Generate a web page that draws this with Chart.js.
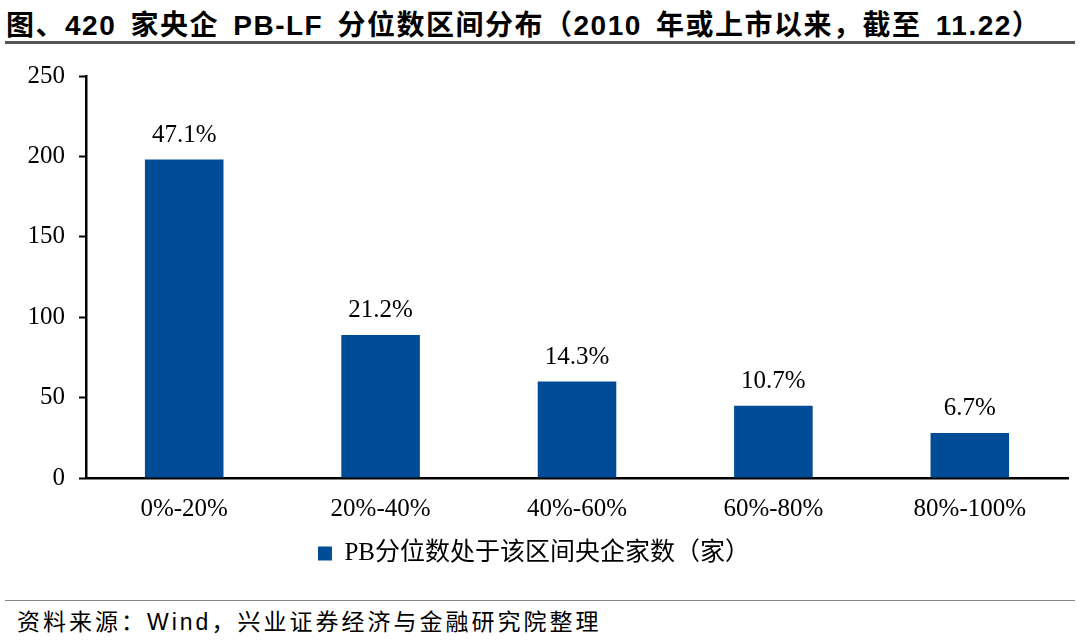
<!DOCTYPE html>
<html>
<head>
<meta charset="utf-8">
<script src="https://cdn.jsdelivr.net/npm/chart.js@4.4.1/dist/chart.umd.min.js"></script>
<style>
  body { margin: 0; background: #fff; width: 1080px; height: 643px; position: relative; overflow: hidden; }
  #title { position: absolute; left: 6px; top: 3px; font: bold 28px "Liberation Sans", "Noto Sans CJK SC", sans-serif; color: #000; white-space: nowrap; letter-spacing: 1.5px; word-spacing: 5px; }
  #titleLine { position: absolute; left: 5px; top: 41px; width: 1070px; height: 3px; background: #555; }
  #srcLine { position: absolute; left: 5px; top: 600px; width: 1070px; height: 1px; background: #888; }
  #source { position: absolute; left: 17px; top: 603px; font: 23px "Liberation Sans", "Noto Sans CJK SC", sans-serif; color: #000; white-space: nowrap; letter-spacing: 3px; }
  #wrap { position: absolute; left: 0; top: 47px; width: 1080px; height: 540px; }
</style>
</head>
<body>
<div id="title">图、420 家央企 PB-LF 分位数区间分布（2010 年或上市以来，截至 11.22）</div>
<div id="titleLine"></div>
<div id="wrap"><canvas id="chart"></canvas></div>
<div id="srcLine"></div>
<div id="source">资料来源：Wind，兴业证券经济与金融研究院整理</div>
<script>
// 分位数区间
const categories = ['0%-20%', '20%-40%', '40%-60%', '60%-80%', '80%-100%'];
// 央企家数
const counts = [198, 89, 60, 45, 28];
// 占比标签
const shares = ['47.1%', '21.2%', '14.3%', '10.7%', '6.7%'];

const serif = '"Liberation Serif", "Noto Sans CJK SC", serif';

// draw share labels above bars
const barLabels = {
  id: 'barLabels',
  afterDatasetsDraw(chart) {
    const ctx = chart.ctx;
    const meta = chart.getDatasetMeta(0);
    ctx.save();
    ctx.font = '25px ' + serif;
    ctx.fillStyle = '#000';
    ctx.textAlign = 'center';
    ctx.textBaseline = 'bottom';
    meta.data.forEach((bar, i) => {
      ctx.fillText(shares[i], bar.x, bar.y - 12);
    });
    ctx.restore();
  }
};

new Chart(document.getElementById('chart'), {
  type: 'bar',
  data: {
    labels: categories,
    datasets: [{
      label: 'PB分位数处于该区间央企家数（家）',
      data: counts,
      backgroundColor: '#004C97',
      borderWidth: 0,
      categoryPercentage: 1,
      barPercentage: 0.4
    }]
  },
  options: {
    responsive: true,
    maintainAspectRatio: false,
    animation: false,
    layout: { padding: { top: 6, right: 12, bottom: 11, left: 0 } },
    plugins: {
      legend: {
        position: 'bottom',
        labels: {
          boxWidth: 14, boxHeight: 14, padding: 10, color: '#000',
          font: { size: 25, family: serif }
        }
      },
      tooltip: { enabled: false }
    },
    scales: {
      x: {
        grid: { display: false },
        border: { color: '#000', width: 2.5 },
        ticks: { color: '#000', padding: 8, font: { size: 25, family: serif } },
        afterFit(s) { s.height = 53; }
      },
      y: {
        min: 0, max: 250,
        grid: { drawOnChartArea: false, drawTicks: true, tickLength: 7, tickColor: '#000', tickWidth: 2 },
        border: { color: '#000', width: 2.5 },
        ticks: { stepSize: 50, color: '#000', padding: 14, font: { size: 25, family: serif } },
        afterFit(s) { s.width = 86; }
      }
    }
  },
  plugins: [barLabels]
});
</script>
</body>
</html>
